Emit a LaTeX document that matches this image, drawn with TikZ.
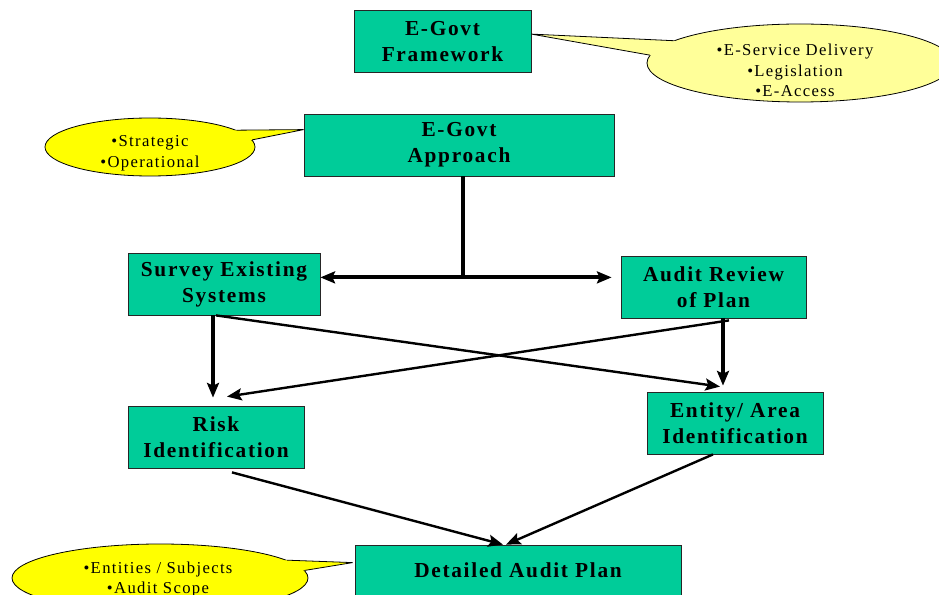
\documentclass[tikz,border=0pt]{standalone}
\usepackage{fontspec}
\setmainfont{Liberation Serif}
\usepackage{tikz}
\usetikzlibrary{calc, positioning, shapes, arrows.meta}
\definecolor{stagegreen}{RGB}{0,204,153}
\definecolor{paleyellow}{RGB}{255,255,153}
\definecolor{noteyellow}{RGB}{255,255,0}
\tikzset{
    stage/.style ={rectangle, draw=black!85, fill=stagegreen, line width=0.6pt, minimum width=132pt, minimum height=46.5pt, inner sep=0pt, align=center,
        font=\fontsize{16}{19.5}\selectfont\bfseries\addfontfeature{LetterSpace=8}}, % the green process boxes
    note/.style = {ellipse, draw, line width=0.6pt, fill=noteyellow, inner sep=0pt}, % yellow speech bubble, text goes in as a label
    notetext/.style = {align=center, font=\fontsize{12.5}{15.4}\selectfont\addfontfeature{LetterSpace=8}},
    flow/.style = {line width=3pt, -{Stealth[length=11pt, width=9pt, inset=2pt]}}, % thick straight arrows
    cross/.style = {line width=1.8pt, -{Stealth[length=11pt, width=9pt, inset=2pt]}} % thinner slanted arrows
}
\begin{document}
\begin{tikzpicture}[x=0.75pt, y=-0.75pt] % one unit is one pixel, y runs down
    \path[use as bounding box, fill=white] (0,0) rectangle (939,595);

    % boxes
    \node[stage, minimum width=132.75pt] (framework) at (442.5,41.5) {E-Govt\\Framework};
    \node[stage, minimum width=232.5pt] (approach) at (459,145) {E-Govt\\Approach};
    \node[stage, minimum width=144pt] (survey) at (224,284) {Survey Existing\\Systems};
    \node[stage, minimum width=138.75pt] (review) at (713.5,287) {Audit Review\\of Plan};
    \node[stage] (risk) at (216,437) {Risk\\Identification};
    \node[stage] (entity) at (735,423) {Entity/ Area\\Identification};
    \node[stage, minimum width=244.5pt, minimum height=37.5pt] (plan) at (518,570) {Detailed Audit Plan};

    % callouts
    \node[note, fill=paleyellow, minimum width=229.5pt, minimum height=58.5pt,
        label={[notetext, xshift=-3.75pt, yshift=-5.5pt]center:{•E-Service Delivery\\•Legislation\\•E-Access}}] (frameNote) at (800,63) {};
    \node[note, minimum width=157.5pt, minimum height=43.5pt,
        label={[notetext, yshift=-4.5pt]center:{•Strategic\\•Operational}}] (approachNote) at (150,147) {};
    \node[note, minimum width=222pt, minimum height=51pt,
        label={[notetext, xshift=-1.5pt, yshift=-1pt]center:{•Entities / Subjects\\•Audit Scope}}] (planNote) at (160,578) {};

    % pointers of the callouts
    \fill[paleyellow] ($(framework.north east)+(0,24)$) -- (frameNote.170) -- ($(frameNote.170)!2pt!(frameNote.center)$)
        -- ($(frameNote.177)!2pt!(frameNote.center)$) -- (frameNote.177) -- cycle;
    \draw[line width=0.6pt] (frameNote.170) -- ($(framework.north east)+(0,24)$) -- (frameNote.177);
    \fill[noteyellow] ($(approach.north west)+(0,16)$) -- (approachNote.11) -- ($(approachNote.11)!2pt!(approachNote.center)$)
        -- ($(approachNote.4)!2pt!(approachNote.center)$) -- (approachNote.4) -- cycle;
    \draw[line width=0.6pt] (approachNote.11) -- ($(approach.north west)+(0,16)$) -- (approachNote.4);
    \fill[noteyellow] ($(plan.north west)+(-2,18)$) -- (planNote.8) -- ($(planNote.8)!2pt!(planNote.center)$)
        -- ($(planNote.3)!2pt!(planNote.center)$) -- (planNote.3) -- cycle;
    \draw[line width=0.6pt] (planNote.8) -- ($(plan.north west)+(-2,18)$) -- (planNote.3);

    % arrows
    \coordinate (split) at ($(approach.south)+(4,101)$);
    \draw[line width=3pt] ($(approach.south)+(4,0)$) -- (split);
    \path (split) edge[flow] (survey.east |- split);
    \path (split) edge[flow] ($(review.west |- split)+(-9,0)$);
    \path ($(survey.south)+(-11,0)$) edge[flow] ($(risk.north)+(-3,-8)$);
    \path ($(review.south)+(9.5,0)$) edge[flow] ($(entity.north)+(-12,-6)$);
    \path ($(survey.south)+(-8,0)$) edge[cross] ($(entity.north)+(-15,-5)$);
    \path ($(review.south)+(15.5,2)$) edge[cross] ($(risk.north)+(11,-9)$);
    \path ($(risk.south)+(16,4)$) edge[cross] ($(plan.north)+(-15,0)$);
    \path ($(entity.south)+(-22,0)$) edge[cross] ($(plan.north)+(-12,0)$);
\end{tikzpicture}
\end{document}
